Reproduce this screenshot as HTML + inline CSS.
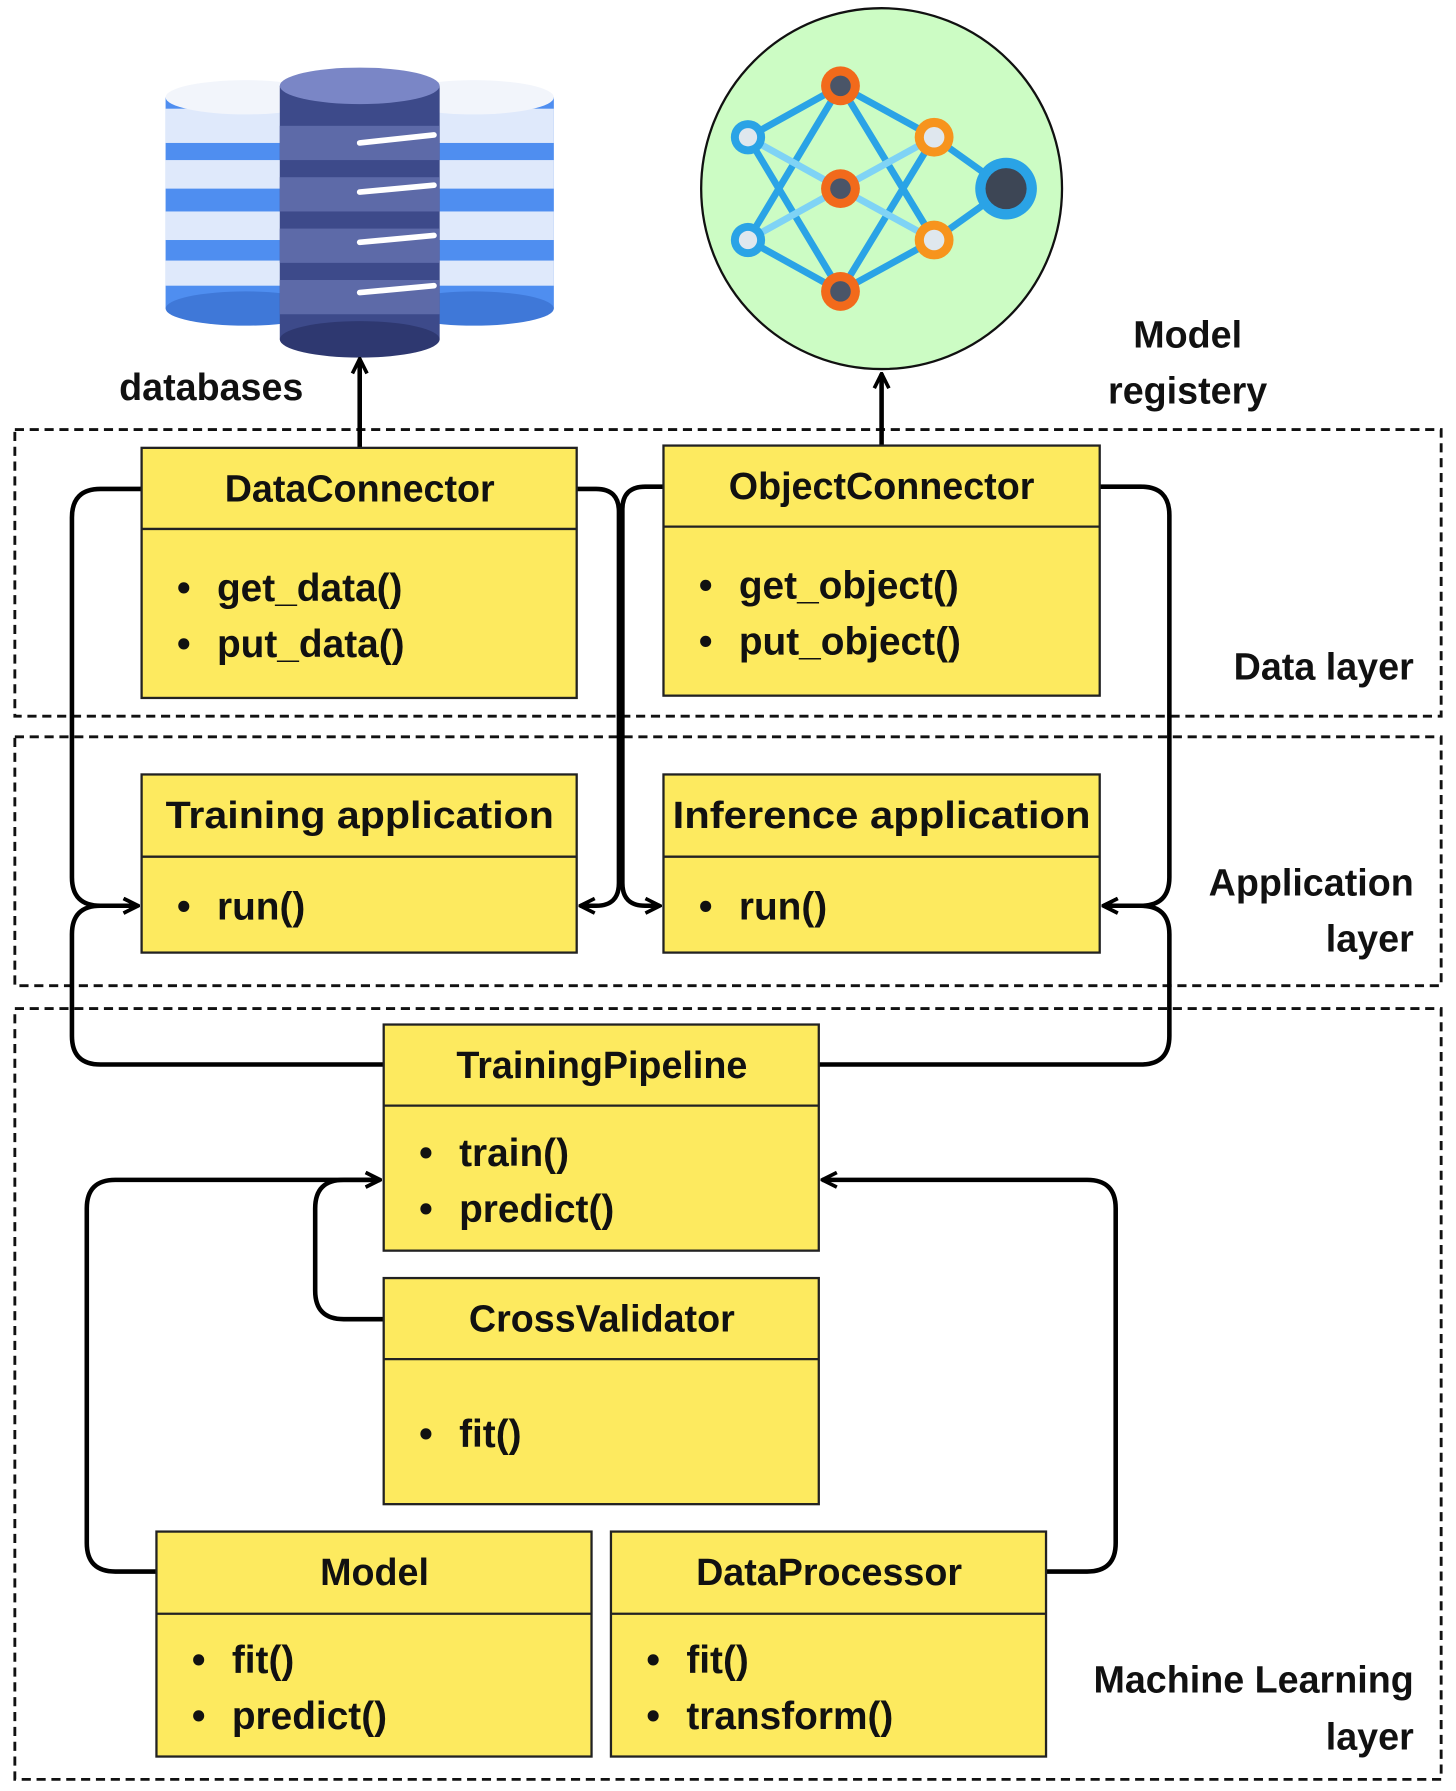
<!DOCTYPE html>
<html><head><meta charset="utf-8"><style>
html,body{margin:0;padding:0;background:#fff;}
svg{display:block;}
text{font-family:"Liberation Sans",sans-serif;font-weight:bold;fill:#111;}
</style></head><body>
<svg width="1456" height="1791" viewBox="0 0 1275 1568" xmlns="http://www.w3.org/2000/svg">
<defs>
<marker id="ah" viewBox="0 0 10 10" refX="9" refY="5" markerWidth="4" markerHeight="4" orient="auto-start-reverse" markerUnits="strokeWidth">
<path d="M1,1 L9,5 L1,9" fill="none" stroke="#000" stroke-width="2"/>
</marker>
</defs>
<g fill="none" stroke="#111" stroke-width="2.5" stroke-dasharray="8,5">
<rect x="13" y="376" width="1249" height="251"/>
<rect x="13" y="645" width="1249" height="218"/>
<rect x="13" y="883" width="1249" height="675"/>
</g>
<g>
<rect x="145" y="85" width="140" height="185" fill="#4f8ef0"/>
<ellipse cx="215" cy="270" rx="70" ry="15" fill="#3f78d8"/>
<rect x="145" y="95" width="140" height="30" fill="#dfe9fb"/>
<rect x="145" y="140" width="140" height="25" fill="#dfe9fb"/>
<rect x="145" y="185" width="140" height="25" fill="#dfe9fb"/>
<rect x="145" y="228" width="140" height="22" fill="#dfe9fb"/>
<ellipse cx="215" cy="85" rx="70" ry="15" fill="#f2f5fb"/>
<rect x="345" y="85" width="140" height="185" fill="#4f8ef0"/>
<ellipse cx="415" cy="270" rx="70" ry="15" fill="#3f78d8"/>
<rect x="345" y="95" width="140" height="30" fill="#dfe9fb"/>
<rect x="345" y="140" width="140" height="25" fill="#dfe9fb"/>
<rect x="345" y="185" width="140" height="25" fill="#dfe9fb"/>
<rect x="345" y="228" width="140" height="22" fill="#dfe9fb"/>
<ellipse cx="415" cy="85" rx="70" ry="15" fill="#f2f5fb"/>
<rect x="245" y="75" width="140" height="222" fill="#3d4a8a"/>
<ellipse cx="315" cy="297" rx="70" ry="16" fill="#2e3870"/>
<rect x="245" y="110" width="140" height="30" fill="#5d6aa8"/>
<rect x="245" y="155" width="140" height="30" fill="#5d6aa8"/>
<rect x="245" y="200" width="140" height="30" fill="#5d6aa8"/>
<rect x="245" y="245" width="140" height="30" fill="#5d6aa8"/>
<ellipse cx="315" cy="75" rx="70" ry="16" fill="#7a86c6"/>
<g stroke="#fff" stroke-width="5" stroke-linecap="round">
<line x1="315" y1="125" x2="380" y2="118"/><line x1="315" y1="168" x2="380" y2="162"/>
<line x1="315" y1="212" x2="380" y2="206"/><line x1="315" y1="256" x2="380" y2="250"/>
</g>
</g>
<text x="185" y="350" font-size="33" text-anchor="middle">databases</text>
<circle cx="772" cy="165" r="158" fill="#ccfcc4" stroke="#111" stroke-width="2"/>
<g stroke="#2aa3e6" stroke-width="6">
<line x1="655" y1="120" x2="736" y2="75"/><line x1="655" y1="120" x2="736" y2="255"/>
<line x1="655" y1="210" x2="736" y2="75"/><line x1="655" y1="210" x2="736" y2="255"/>
<line x1="736" y1="75" x2="818" y2="120"/><line x1="736" y1="75" x2="818" y2="210"/>
<line x1="736" y1="255" x2="818" y2="120"/><line x1="736" y1="255" x2="818" y2="210"/>
<line x1="818" y1="120" x2="881" y2="165"/><line x1="818" y1="210" x2="881" y2="165"/>
</g>
<g stroke="#7fd3f5" stroke-width="6">
<line x1="655" y1="120" x2="736" y2="165"/><line x1="655" y1="210" x2="736" y2="165"/>
<line x1="736" y1="165" x2="818" y2="120"/><line x1="736" y1="165" x2="818" y2="210"/>
</g>
<g>
<circle cx="655" cy="120" r="15" fill="#2aa3e6"/><circle cx="655" cy="120" r="8" fill="#dfe7ee"/>
<circle cx="655" cy="210" r="15" fill="#2aa3e6"/><circle cx="655" cy="210" r="8" fill="#dfe7ee"/>
<circle cx="736" cy="75" r="17" fill="#f26a1b"/><circle cx="736" cy="75" r="9" fill="#4a5568"/>
<circle cx="736" cy="165" r="17" fill="#f26a1b"/><circle cx="736" cy="165" r="9" fill="#4a5568"/>
<circle cx="736" cy="255" r="17" fill="#f26a1b"/><circle cx="736" cy="255" r="9" fill="#4a5568"/>
<circle cx="818" cy="120" r="17" fill="#f7941d"/><circle cx="818" cy="120" r="9" fill="#dfe7ee"/>
<circle cx="818" cy="210" r="17" fill="#f7941d"/><circle cx="818" cy="210" r="9" fill="#dfe7ee"/>
<circle cx="881" cy="165" r="27" fill="#2aa3e6"/><circle cx="881" cy="165" r="18" fill="#3d4655"/>
</g>
<text x="1040" y="304" font-size="33" text-anchor="middle">Model</text>
<text x="1040" y="353" font-size="33" text-anchor="middle">registery</text>
<text x="1238" y="595" font-size="33" text-anchor="end">Data layer</text>
<text x="1238" y="784" font-size="33" text-anchor="end">Application</text>
<text x="1238" y="833" font-size="33" text-anchor="end">layer</text>
<text x="1238" y="1482" font-size="33" text-anchor="end">Machine Learning</text>
<text x="1238" y="1532" font-size="33" text-anchor="end">layer</text>
<g fill="none" stroke="#000" stroke-width="4">
<path d="M315 392 V314" marker-end="url(#ah)"/>
<path d="M772 390 V327" marker-end="url(#ah)"/>
<path d="M124 428 H88 Q63 428 63 453 V768 Q63 793 88 793 H121" marker-end="url(#ah)"/>
<path d="M505 428 H522 Q542 428 542 448 V773 Q542 793 522 793 H508" marker-end="url(#ah)"/>
<path d="M581 426 H565 Q545 426 545 446 V773 Q545 793 565 793 H578" marker-end="url(#ah)"/>
<path d="M963 426 H999 Q1024 426 1024 451 V768 Q1024 793 999 793 H966" marker-end="url(#ah)"/>
<path d="M336 932 H88 Q63 932 63 907 V818 Q63 793 88 793 H121" marker-end="url(#ah)"/>
<path d="M717 932 H999 Q1024 932 1024 907 V818 Q1024 793 999 793 H966" marker-end="url(#ah)"/>
<path d="M137 1376 H101 Q76 1376 76 1351 V1058 Q76 1033 101 1033 H333" marker-end="url(#ah)"/>
<path d="M336 1155 H301 Q276 1155 276 1130 V1058 Q276 1033 301 1033 H333" marker-end="url(#ah)"/>
<path d="M916 1376 H952 Q977 1376 977 1351 V1058 Q977 1033 952 1033 H720" marker-end="url(#ah)"/>
</g>
<g fill="#fdea5f" stroke="#222" stroke-width="2">
<rect x="124" y="392" width="381" height="219"/><line x1="124" y1="463" x2="505" y2="463"/>
<rect x="581" y="390" width="382" height="219"/><line x1="581" y1="461" x2="963" y2="461"/>
<rect x="124" y="678" width="381" height="156"/><line x1="124" y1="750" x2="505" y2="750"/>
<rect x="581" y="678" width="382" height="156"/><line x1="581" y1="750" x2="963" y2="750"/>
<rect x="336" y="897" width="381" height="198"/><line x1="336" y1="968" x2="717" y2="968"/>
<rect x="336" y="1119" width="381" height="198"/><line x1="336" y1="1190" x2="717" y2="1190"/>
<rect x="137" y="1341" width="381" height="197"/><line x1="137" y1="1413" x2="518" y2="1413"/>
<rect x="535" y="1341" width="381" height="197"/><line x1="535" y1="1413" x2="916" y2="1413"/>
</g>
<g font-size="33">
<text x="315" y="439" text-anchor="middle">DataConnector</text>
<text x="772" y="437" text-anchor="middle">ObjectConnector</text>
<text x="315" y="725" text-anchor="middle" textLength="340" lengthAdjust="spacingAndGlyphs">Training application</text>
<text x="772" y="725" text-anchor="middle" textLength="366" lengthAdjust="spacingAndGlyphs">Inference application</text>
<text x="527" y="944" text-anchor="middle">TrainingPipeline</text>
<text x="527" y="1166" text-anchor="middle">CrossValidator</text>
<text x="328" y="1388" text-anchor="middle">Model</text>
<text x="726" y="1388" text-anchor="middle">DataProcessor</text>
</g>
<g font-size="34">
<text x="155" y="526">•</text><text x="190" y="526">get_data()</text>
<text x="155" y="575">•</text><text x="190" y="575">put_data()</text>
<text x="612" y="524">•</text><text x="647" y="524">get_object()</text>
<text x="612" y="573">•</text><text x="647" y="573">put_object()</text>
<text x="155" y="805">•</text><text x="190" y="805">run()</text>
<text x="612" y="805">•</text><text x="647" y="805">run()</text>
<text x="367" y="1021">•</text><text x="402" y="1021">train()</text>
<text x="367" y="1070">•</text><text x="402" y="1070">predict()</text>
<text x="367" y="1267">•</text><text x="402" y="1267">fit()</text>
<text x="168" y="1465">•</text><text x="203" y="1465">fit()</text>
<text x="168" y="1514">•</text><text x="203" y="1514">predict()</text>
<text x="566" y="1465">•</text><text x="601" y="1465">fit()</text>
<text x="566" y="1514">•</text><text x="601" y="1514">transform()</text>
</g>
</svg>
</body></html>
